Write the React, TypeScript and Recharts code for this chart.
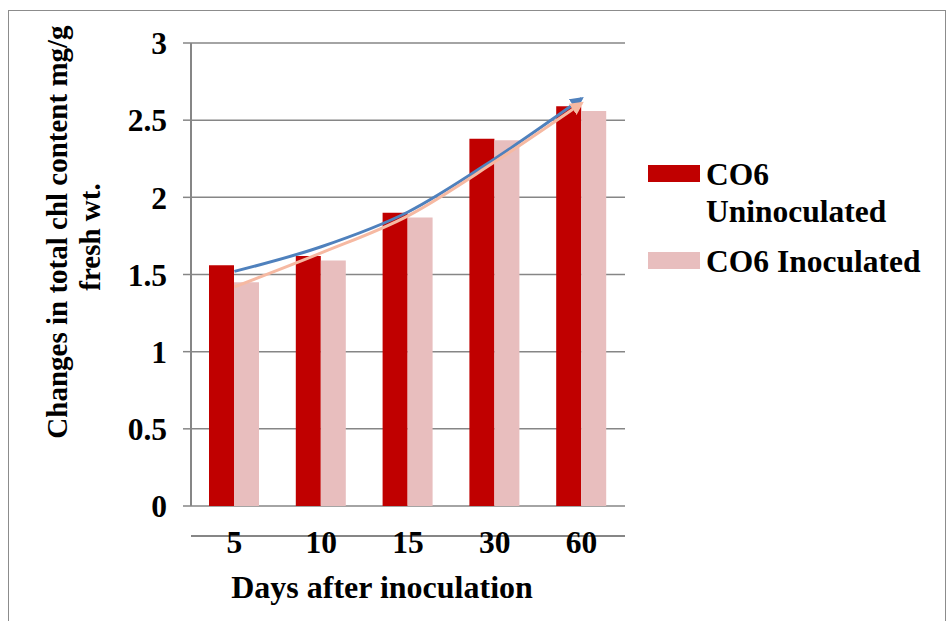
import React from 'react';
import { ComposedChart, Bar, Line, XAxis, YAxis, CartesianGrid } from 'recharts';

const categories = ['5', '10', '15', '30', '60'];
const uninoculated = [1.56, 1.62, 1.9, 2.38, 2.59];
const inoculated = [1.45, 1.59, 1.87, 2.37, 2.56];
// trendlines
const trendUninoculated = [1.52, 1.68, 1.905, 2.25, 2.64];
const trendInoculated = [1.42, 1.64, 1.88, 2.23, 2.61];
const yTicks = [0, 0.5, 1, 1.5, 2, 2.5, 3];
const boundaryTicks = [0, 1, 2, 3, 4, 5];

const FONT = '"Liberation Serif", "Times New Roman", serif';
const RED = '#C00000';
const PINK = '#E8BEBE';
const BLUE = '#4F81BD';
const SALMON = '#F6B9A2';
const AXIS = '#868686';

const data = categories.map((day, i) => ({
  day,
  uninoculated: uninoculated[i],
  inoculated: inoculated[i],
  trendUninoculated: trendUninoculated[i],
  trendInoculated: trendInoculated[i],
}));

const tickStyle = { fill: '#000', fontSize: 31.5, fontWeight: 700, fontFamily: FONT };

const YTitle = () => (
  <g fontFamily={FONT} fontSize={29} fontWeight={700} fill="#000" textAnchor="middle">
    <text transform="translate(67,232) rotate(-90)">Changes in total chl content mg/g</text>
    <text transform="translate(100,237) rotate(-90)">fresh wt.</text>
  </g>
);

const XTitle = () => (
  <text x={382} y={598} textAnchor="middle" fontFamily={FONT} fontSize={32} fontWeight={700} fill="#000">
    Days after inoculation
  </text>
);

const LegendBox = () => (
  <div style={{ position: 'absolute', left: 648, top: 156, fontFamily: FONT, fontWeight: 700, fontSize: 31.5, lineHeight: '37px', color: '#000' }}>
    <div style={{ display: 'flex', alignItems: 'flex-start' }}>
      <div style={{ width: 52, height: 17, background: RED, marginTop: 9, marginRight: 6 }} />
      <div>CO6<br />Uninoculated</div>
    </div>
    <div style={{ display: 'flex', alignItems: 'flex-start', marginTop: 13 }}>
      <div style={{ width: 52, height: 17, background: PINK, marginTop: 9, marginRight: 6 }} />
      <div>CO6 Inoculated</div>
    </div>
  </div>
);

export default function App() {
  return (
    <div style={{ position: 'absolute', left: 0, top: 0, width: 947, height: 621, background: '#fff', overflow: 'hidden' }}>
      <div style={{ position: 'absolute', left: 8, top: 10, width: 936, height: 640, border: '1px solid #8c8c8c' }} />
      <ComposedChart
        width={947}
        height={621}
        data={data}
        margin={{ top: 43, right: 322, bottom: 84, left: 131 }}
        barGap={0}
        style={{ position: 'absolute', left: 0, top: 0 }}
      >
        <defs>
          <marker id="arrowBlue" viewBox="0 0 10 10" refX="8" refY="5" markerWidth="4.5" markerHeight="4.5" orient="auto">
            <path d="M0,0 L10,5 L0,10 z" fill={BLUE} />
          </marker>
          <marker id="arrowSalmon" viewBox="0 0 10 10" refX="8" refY="5" markerWidth="4.5" markerHeight="4.5" orient="auto">
            <path d="M0,0 L10,5 L0,10 z" fill={SALMON} />
          </marker>
        </defs>
        <CartesianGrid vertical={false} stroke={AXIS} strokeWidth={1.5} />
        {/* category boundary tick marks, Excel style */}
        <XAxis
          xAxisId="bounds"
          type="number"
          domain={[0, 5]}
          ticks={boundaryTicks}
          tick={false}
          axisLine={{ stroke: AXIS, strokeWidth: 2 }}
          tickLine={{ stroke: AXIS, strokeWidth: 2 }}
          tickSize={9}
          height={1}
        />
        <XAxis
          dataKey="day"
          tick={tickStyle}
          tickLine={false}
          axisLine={false}
          tickSize={0}
          tickMargin={25}
          height={30}
        />
        <YAxis
          domain={[0, 3]}
          ticks={yTicks}
          width={60}
          tick={tickStyle}
          tickSize={8}
          tickMargin={16}
          tickLine={{ stroke: AXIS, strokeWidth: 1.5 }}
          axisLine={{ stroke: AXIS, strokeWidth: 2 }}
          interval={0}
        />
        <Bar dataKey="uninoculated" fill={RED} barSize={25} isAnimationActive={false} />
        <Bar dataKey="inoculated" fill={PINK} barSize={25} isAnimationActive={false} />
        <Line
          type="monotone"
          dataKey="trendUninoculated"
          stroke={BLUE}
          strokeWidth={3}
          dot={false}
          markerEnd="url(#arrowBlue)"
          isAnimationActive={false}
        />
        <Line
          type="monotone"
          dataKey="trendInoculated"
          stroke={SALMON}
          strokeWidth={3}
          dot={false}
          markerEnd="url(#arrowSalmon)"
          isAnimationActive={false}
        />
        <YTitle />
        <XTitle />
      </ComposedChart>
      <LegendBox />
    </div>
  );
}
